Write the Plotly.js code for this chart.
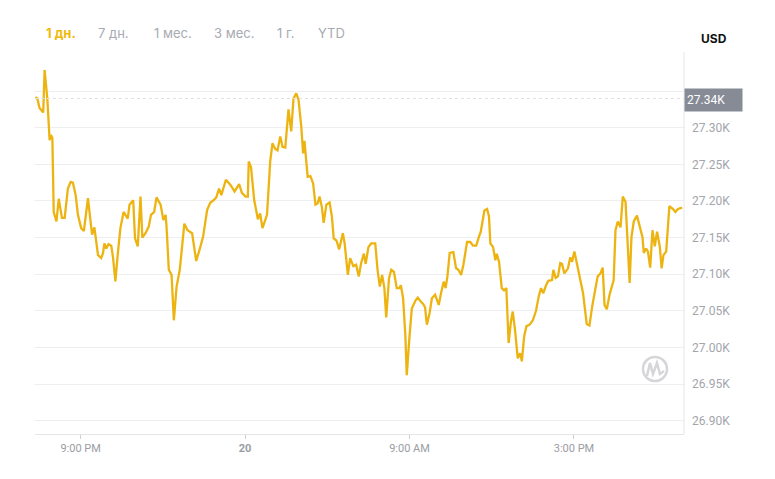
<!DOCTYPE html>
<html>
<head>
<meta charset="utf-8">
<script src="https://cdn.plot.ly/plotly-3.0.1.min.js"></script>
<style>html,body{margin:0;padding:0;background:#fff;}#chart{width:775px;height:479px;}</style>
</head>
<body>
<div id="chart"></div>
<script>
// minutes since start of the 24h window
const minutes = [
0,4,9,17,20,26,31,34,37,40,
46,51,58,64,71,77,82,88,93,100,
106,111,115,119,124,129,133,137,144,148,
151,155,160,166,170,175,180,186,193,202,
206,214,218,224,230,234,241,248,253,260,
265,274,280,285,287,292,298,303,309,316,
326,333,343,352,360,367,376,383,390,396,
402,407,417,427,436,446,452,460,465,467,
472,479,487,492,497,507,514,519,525,530,
536,541,547,554,560,565,571,576,582,586,
589,593,596,602,608,613,618,622,627,631,
637,644,649,653,659,665,673,677,684,689,
696,702,708,713,719,723,729,735,744,749,
754,759,764,768,774,779,785,791,797,800,
805,810,813,819,824,832,837,843,848,853,
857,863,868,875,883,888,894,898,902,907,
915,921,926,932,937,945,952,958,965,971,
975,983,989,993,996,1002,1007,1010,1015,1021,
1026,1031,1036,1041,1045,1050,1056,1061,1065,1070,
1075,1082,1089,1096,1102,1107,1112,1118,1123,1131,
1134,1139,1144,1149,1153,1158,1166,1171,1175,1180,
1184,1191,1199,1207,1213,1219,1226,1231,1237,1242,
1246,1251,1257,1266,1270,1275,1281,1286,1292,1297,
1301,1305,1310,1317,1323,1329,1332,1337,1341,1346,
1351,1356,1361,1367,1371,1375,1381,1388,1396,1401,
1407,1416
];
// price in USD
const prices = [
27342,27340,27327,27321,27379,27340,27283,27290,27286,27185,
27172,27203,27177,27177,27217,27226,27225,27208,27181,27163,
27159,27181,27204,27181,27154,27164,27144,27126,27122,27129,
27142,27135,27141,27139,27122,27090,27126,27163,27185,27176,
27195,27201,27149,27138,27206,27150,27156,27165,27181,27185,
27205,27195,27174,27181,27165,27106,27099,27037,27083,27106,
27169,27160,27156,27118,27135,27151,27188,27198,27201,27205,
27217,27208,27229,27222,27213,27223,27211,27206,27206,27254,
27246,27201,27175,27183,27163,27181,27254,27279,27271,27269,
27288,27274,27273,27325,27295,27340,27347,27338,27302,27265,
27282,27256,27233,27234,27224,27195,27197,27206,27192,27170,
27195,27198,27179,27149,27146,27134,27156,27142,27099,27122,
27111,27113,27097,27115,27128,27114,27137,27142,27142,27106,
27083,27099,27081,27041,27094,27106,27103,27081,27081,27085,
27067,27015,26962,27015,27053,27064,27068,27063,27060,27055,
27031,27047,27067,27072,27058,27074,27090,27081,27097,27129,
27130,27108,27106,27099,27113,27144,27144,27139,27139,27151,
27158,27187,27189,27179,27142,27137,27119,27128,27117,27081,
27078,27081,27006,27035,27049,27024,26985,26992,26981,27015,
27029,27031,27037,27050,27070,27081,27074,27085,27091,27092,
27106,27095,27097,27115,27114,27101,27108,27123,27117,27131,
27119,27097,27074,27032,27030,27056,27083,27097,27101,27109,
27058,27052,27072,27092,27160,27172,27164,27206,27199,27142,
27088,27151,27172,27180,27165,27151,27129,27135,27131,27109,
27160,27138,27158,27138,27108,27126,27131,27193,27189,27185,
27189,27191
];
const xTickVals = [99, 459, 819, 1179];
const xTickText = ['9:00 PM', '<b>20</b>', '9:00 AM', '3:00 PM'];
// 27.35K gridline exists but its label sits hidden under the price marker
const yTickVals = [26900,26950,27000,27050,27100,27150,27200,27250,27300,27350];
const yTickText = ['26.90K','26.95K','27.00K','27.05K','27.10K','27.15K','27.20K','27.25K','27.30K',''];
const refPrice = 27340;
const refLabel = '27.34K';
const tabs = ['1 дн.', '7 дн.', '1 мес.', '3 мес.', '1 г.', 'YTD'];
const tabX = [0.0393, 0.1217, 0.2119, 0.3066, 0.3867, 0.4561];
const currency = 'USD';

const trace = {
  x: minutes, y: prices, type: 'scatter', mode: 'lines',
  line: {color: '#EDB411', width: 2.3, shape: 'linear'},
  hoverinfo: 'skip'
};

const annotations = tabs.map((t, i) => ({
  xref: 'paper', yref: 'paper', x: tabX[i], y: 1.0497,
  xanchor: 'center', yanchor: 'middle', showarrow: false,
  text: i === 0 ? '<b>' + t + '</b>' : t,
  font: {family: 'Inter, Roboto, sans-serif', size: 13, color: i === 0 ? '#F0B90B' : '#A7AAB2'}
}));
annotations.push({
  xref: 'paper', yref: 'paper', x: 1.0462, y: 1.0366,
  xanchor: 'center', yanchor: 'middle', showarrow: false,
  text: '<b>' + currency + '</b>',
  font: {family: 'Inter, Roboto, sans-serif', size: 12, color: '#111111'}
});
annotations.push({
  xref: 'paper', yref: 'y', x: 1.0, y: refPrice - 2,
  xanchor: 'left', yanchor: 'middle', showarrow: false,
  text: refLabel, align: 'left', width: 53, height: 18, borderpad: 2,
  bgcolor: '#868B96',
  font: {family: 'Roboto, sans-serif', size: 12, color: '#FFFFFF'}
});

const shapes = [
  {type: 'line', xref: 'paper', yref: 'y', x0: 0, x1: 1, y0: refPrice, y1: refPrice,
   line: {color: '#E0E0E4', width: 1, dash: 'dot'}},
  {type: 'line', xref: 'paper', yref: 'paper', x0: 1, x1: 1, y0: 0, y1: 1,
   line: {color: '#E6E6E8', width: 1}},
  {type: 'circle', xref: 'paper', yref: 'paper', x0: 0.9368, x1: 0.9738, y0: 0.1387, y1: 0.2016,
   line: {color: '#D6D6DA', width: 2.5}},
  {type: 'path', xref: 'paper', yref: 'paper',
   path: 'M 0.943 0.1518 L 0.9476 0.1859 L 0.9522 0.1571 L 0.9584 0.1859 L 0.963 0.1571 L 0.9692 0.1649',
   line: {color: '#D6D6DA', width: 2.5}}
];

const layout = {
  width: 775, height: 479,
  margin: {l: 35, r: 91, t: 52, b: 45},
  paper_bgcolor: '#FFFFFF', plot_bgcolor: '#FFFFFF',
  showlegend: false,
  xaxis: {
    range: [-1, 1420], tickmode: 'array', tickvals: xTickVals, ticktext: xTickText,
    showgrid: false, zeroline: false, showline: true, linecolor: '#E6E6E8', linewidth: 1,
    ticks: 'outside', ticklen: 4, tickcolor: '#D0D0D4', tickwidth: 1,
    tickfont: {family: 'Roboto, sans-serif', size: 11, color: '#9A9CA3'},
    fixedrange: true
  },
  yaxis: {
    side: 'right', range: [26881.7, 27403.5], tickmode: 'array', tickvals: yTickVals, ticktext: yTickText,
    showgrid: true, gridcolor: '#EEEEF0', gridwidth: 1, zeroline: false, showline: false,
    ticks: '', ticklabelstandoff: 7,
    tickfont: {family: 'Roboto, sans-serif', size: 12, color: '#A3A5AC'},
    fixedrange: true
  },
  annotations: annotations,
  shapes: shapes
};

Plotly.newPlot('chart', [trace], layout, {displayModeBar: false, staticPlot: true});
</script>
</body>
</html>
